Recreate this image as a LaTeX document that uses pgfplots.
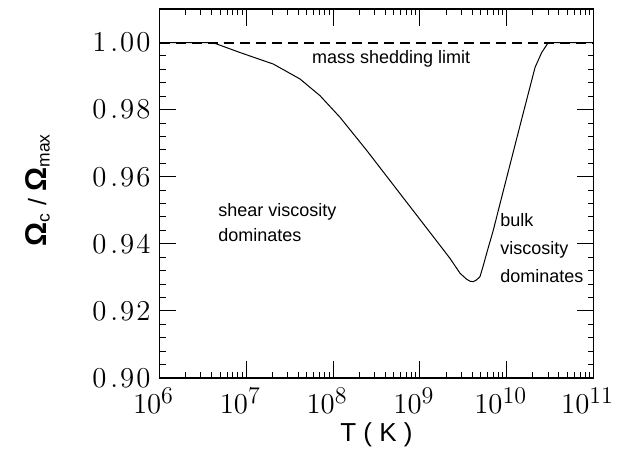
\documentclass[border=0pt]{standalone}
\usepackage{fontspec}
\setmainfont{Liberation Sans}
\usepackage{pgfplots}
\pgfplotsset{compat=1.18}

\pgfplotstableread{
T        w
1e6      1.0
4.10e6   1.0
8.45e6   0.99703
2.05e7   0.99358
4.16e7   0.98913
7.06e7   0.98417
1.20e8   0.97773
2.44e8   0.96784
5.90e8   0.95497
1.43e9   0.94209
2.22e9   0.93567
2.90e9   0.93122
3.46e9   0.92943
3.78e9   0.92885
4.12e9   0.92872
4.47e9   0.92920
4.92e9   0.93020
5.37e9   0.93350
5.87e9   0.93715
7.01e9   0.94407
8.38e9   0.95200
1.49e10  0.97725
2.12e10  0.99258
2.53e10  0.99703
3.01e10  1.0
1e11     1.0
}\omegadata

% tick labels: big exponent, slightly spaced decimals
\newcommand{\ex}[1]{$10^{\mbox{\fontsize{12}{12}\selectfont$#1$}}$}
\newcommand{\yl}[3]{$#1\kern2pt.\kern1pt#2\kern1pt#3$}

\begin{document}
\begin{tikzpicture}
\begin{axis}[
    xmode=log,
    scale only axis,
    width=217pt, height=184.5pt,
    xmin=1e6, xmax=1e11,
    ymin=0.90, ymax=1.01,
    xtick={1e6,1e7,1e8,1e9,1e10,1e11},
    xticklabels={\ex{6},\ex{7},\ex{8},\ex{9},\ex{10},\ex{11}},
    ytick={0.90,0.92,0.94,0.96,0.98,1.00},
    yticklabels={\yl{0}{9}{0},\yl{0}{9}{2},\yl{0}{9}{4},\yl{0}{9}{6},\yl{0}{9}{8},\yl{1}{0}{0}},
    minor y tick num=4,
    xticklabel style={font=\fontsize{13.5}{14}\selectfont, xshift=-3pt, yshift=-1.5pt},
    yticklabel style={font=\fontsize{14}{15}\selectfont, xshift=-1pt},
    tick align=inside,
    major tick length=8.5pt,
    minor tick length=3pt,
    axis line style={line width=0.6pt},
    every tick/.style={black, line width=0.5pt},
    xlabel={T ( K )},
    xlabel style={font=\fontsize{13}{14}\selectfont, at={(axis description cs:0.5,-0.155)}, anchor=center},
    ylabel={{\bfseries\fontsize{15}{16}\selectfont Ω}\textsubscript{c} / {\bfseries\fontsize{15}{16}\selectfont Ω}\textsubscript{max}},
    ylabel style={font=\fontsize{12.5}{14}\selectfont, at={(axis description cs:-0.281,0.51)}, anchor=center},
]
\addplot[black, line width=0.5pt] table[x=T, y=w] {\omegadata};
\addplot[black, line width=1pt, dash pattern=on 5pt off 3pt] coordinates {(1e6,1.0) (1e11,1.0)};
\node[font=\fontsize{9}{11}\selectfont] at (axis cs:4.65e8,0.99516) {mass shedding limit};
\node[anchor=west, align=left, inner sep=0pt, font=\fontsize{9}{12.5}\selectfont] at (axis cs:4.72e6,0.94645) {shear viscosity\\dominates};
\node[anchor=west, align=left, inner sep=0pt, font=\fontsize{9}{14}\selectfont] at (axis cs:8.38e9,0.93873) {bulk\\viscosity\\dominates};
\end{axis}
% page size as in the reference
\path ([xshift=-79.75pt,yshift=-37.5pt]current axis.south west) rectangle ([xshift=20.75pt,yshift=4.5pt]current axis.north east);
\end{tikzpicture}
\end{document}
